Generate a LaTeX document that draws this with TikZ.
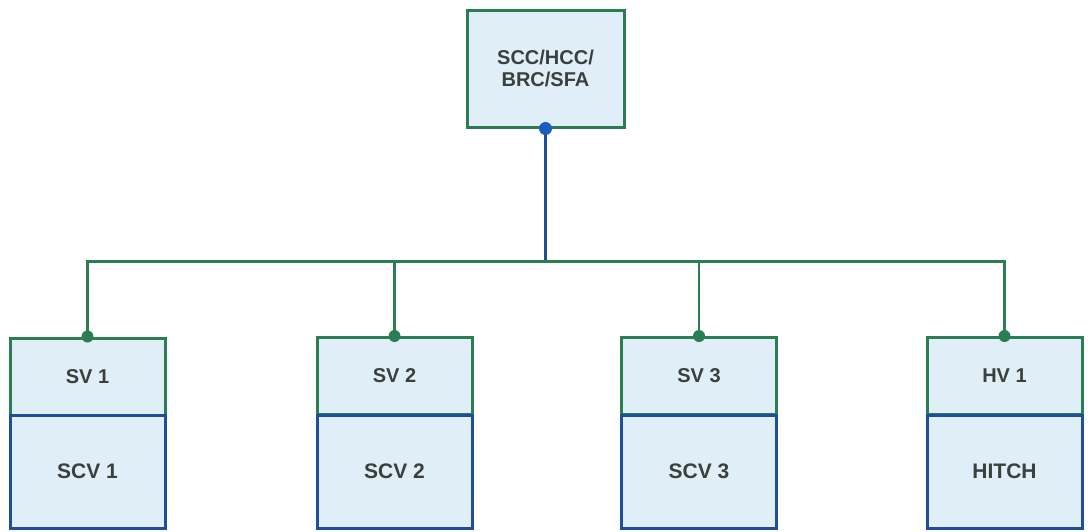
\documentclass[tikz,border=0pt]{standalone}
\usepackage{fontspec}
\setmainfont{Liberation Sans}
\definecolor{boxfill}{HTML}{E0EEF7}
\definecolor{grn}{HTML}{2B7D52}
\definecolor{blu}{HTML}{1F4F98}
\definecolor{dotblu}{HTML}{1A5DBE}
\definecolor{txt}{HTML}{3A403D}
\tikzset{
  upbox/.style={draw=grn, line width=3pt, fill=boxfill, inner sep=0pt,
    minimum width=155pt, minimum height=77pt, text=txt,
    font=\fontsize{20}{23}\selectfont\bfseries},
  lowbox/.style={draw=blu, line width=3pt, fill=boxfill, inner sep=0pt,
    minimum width=155pt, minimum height=113pt, text=txt,
    font=\fontsize{21}{24}\selectfont\bfseries},
  topbox/.style={draw=grn, line width=3pt, fill=boxfill, inner sep=0pt,
    minimum width=157pt, minimum height=117pt, text=txt, align=center,
    font=\fontsize{20}{22}\selectfont\bfseries},
  gline/.style={draw=grn, line width=2.8pt},
  bline/.style={draw=blu, line width=2.8pt},
  gdot/.style={fill=grn, draw=none},
  bdot/.style={fill=dotblu, draw=none}
}
\begin{document}
\begin{tikzpicture}[x=1pt,y=-1pt]
\fill[white] (0,0) rectangle (1088,531);
\useasboundingbox (0,0) rectangle (1088,531);

\node[topbox] (top) at (545.5,68.5) {SCC/HCC/\\BRC/SFA};

\node[upbox] (sv1) at (87.5,376.5) {SV 1};
\node[upbox] (sv2) at (394.5,376) {SV 2};
\node[upbox] (sv3) at (699,376) {SV 3};
\node[upbox] (hv1) at (1004.5,376) {HV 1};

\node[lowbox] (scv1) at (87.5,471.5) {SCV 1};
\node[lowbox] (scv2) at (394.5,471.5) {SCV 2};
\node[lowbox] (scv3) at (699,471.5) {SCV 3};
\node[lowbox] (hitch) at (1004.5,471.5) {HITCH};

\coordinate (bus) at (0,261.5);

\draw[bline] (top.south) -- (top.south |- bus);
\draw[gline] (sv1.north) -- (sv1.north |- bus) -- (hv1.north |- bus) -- (hv1.north);
\draw[gline] (sv2.north) -- (sv2.north |- bus);
\draw[gline] (sv3.north) -- (sv3.north |- bus);

\fill[gdot] (sv1.north) circle (6);
\fill[gdot] (sv2.north) circle (6);
\fill[gdot] (sv3.north) circle (6);
\fill[gdot] (hv1.north) circle (6);
\fill[bdot] (top.south) circle (6.5);
\end{tikzpicture}
\end{document}
